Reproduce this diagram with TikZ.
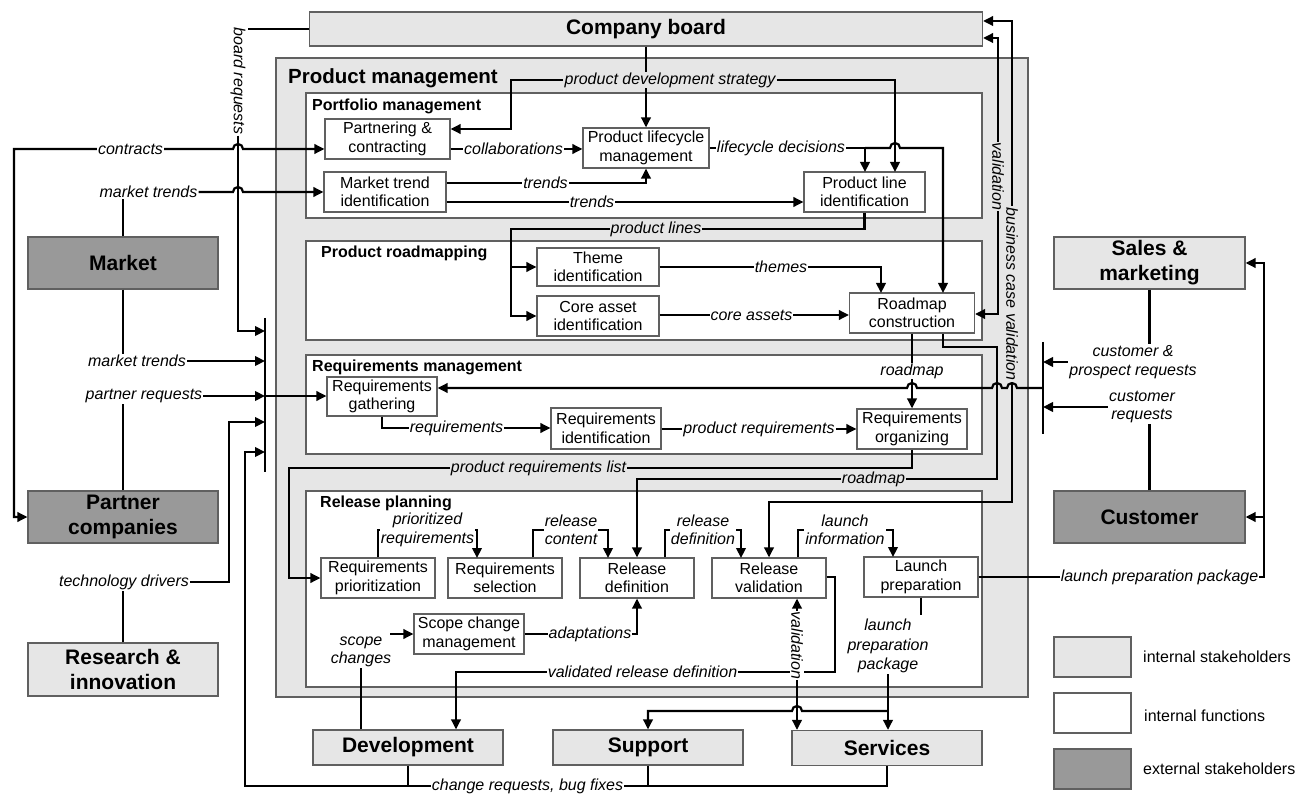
\documentclass[tikz,border=0pt]{standalone}
\usepackage{fontspec}
\setmainfont{Liberation Sans}
\usetikzlibrary{arrows.meta}
\definecolor{lightg}{HTML}{E6E6E6}
\definecolor{darkg}{HTML}{999999}
\definecolor{bordc}{HTML}{606060}
\pgfdeclarelayer{fg}
\pgfsetlayers{main,fg}
\begin{document}
\begin{tikzpicture}[x=1pt,y=-1pt,
 >={Triangle[length=10pt,width=9.5pt]},
 ln/.style={line width=2.2pt},
 area/.style={draw=bordc,line width=1.2pt,inner sep=0pt,fill=white},
 fn/.style={draw=bordc,line width=1.2pt,fill=white,inner sep=0pt,align=center,font=\fontsize{16}{18.5}\selectfont,minimum width=114,minimum height=40},
 sh/.style={draw=bordc,line width=1.2pt,inner sep=0pt,align=center,font=\bfseries\fontsize{21}{25}\selectfont,minimum width=190,minimum height=52},
 ttl/.style={anchor=west,inner sep=0pt,font=\bfseries\fontsize{16}{19}\selectfont},
 lbl/.style={inner sep=1pt,align=center,fill=white,font=\itshape\fontsize{16}{18.5}\selectfont},
 lblg/.style={lbl,fill=lightg},
 lgt/.style={anchor=west,inner sep=0pt,font=\fontsize{16}{19}\selectfont}]
\useasboundingbox[fill=white] (0,0) rectangle (1304,794);
% ---------- areas
\node[area,fill=lightg,minimum width=752,minimum height=639] (pm) at (652,377.5) {};
\node[ttl,font=\bfseries\fontsize{20.5}{24}\selectfont] (pmt) at (288,78) {Product management};
\node[area,minimum width=676,minimum height=125] (pfm) at (644,155.5) {};
\node[ttl] (pfmt) at (312,106) {Portfolio management};
\node[area,minimum width=676,minimum height=99] (prm) at (644,290.5) {};
\node[ttl] (prmt) at (321,253) {Product roadmapping};
\node[area,minimum width=676,minimum height=99] (rqm) at (644,404.5) {};
\node[ttl] (rqmt) at (312,367) {Requirements management};
\node[area,minimum width=676,minimum height=196] (rlp) at (644,589) {};
\node[ttl] (rlpt) at (320,503) {Release planning};
% ---------- stakeholders
\node[sh,fill=lightg,minimum width=673,minimum height=34] (cb) at (646,29) {Company board};
\node[sh,fill=darkg] (mk) at (123,263) {Market};
\node[sh,fill=darkg] (pco) at (123,517) {Partner\\companies};
\node[sh,fill=lightg,minimum height=53] (rin) at (123,669.5) {Research \&\\innovation};
\node[sh,fill=lightg,minimum width=191] (sm) at (1149.5,263) {Sales \&\\marketing};
\node[sh,fill=darkg,minimum width=191] (cu) at (1149.5,517) {Customer};
\node[sh,fill=lightg,minimum height=35] (dev) at (408,747.5) {Development};
\node[sh,fill=lightg,minimum height=35] (sup) at (648,747.5) {Support};
\node[sh,fill=lightg,minimum height=35] (srv) at (887,748) {Services};
% ---------- functions
\node[fn,minimum width=125] (pc) at (387.5,139) {Partnering \&\\contracting};
\node[fn,minimum width=122] (mti) at (385,192) {Market trend\\identification};
\node[fn,minimum width=126] (plm) at (646,148) {Product lifecycle\\management};
\node[fn,minimum width=121] (pli) at (864.5,192) {Product line\\identification};
\node[fn,minimum width=122,minimum height=38] (ti) at (598,267) {Theme\\identification};
\node[fn,minimum width=122] (cai) at (598,316) {Core asset\\identification};
\node[fn,minimum width=125] (rc) at (912,313) {Roadmap\\construction};
\node[fn,minimum width=110,minimum height=39] (rg) at (382,396.5) {Requirements\\gathering};
\node[fn,minimum width=110,minimum height=41] (ri) at (606,428.5) {Requirements\\identification};
\node[fn,minimum width=110] (ro) at (912,429) {Requirements\\organizing};
\node[fn] (rpz) at (378,578) {Requirements\\prioritization};
\node[fn] (rs) at (505,578) {Requirements\\selection};
\node[fn] (rd) at (637,578) {Release\\definition};
\node[fn] (rv) at (769,578) {Release\\validation};
\node[fn] (lp) at (921,577) {Launch\\preparation};
\node[fn,minimum width=110] (scm) at (469,634) {Scope change\\management};
% ---------- legend
\node[sh,fill=lightg,minimum width=77,minimum height=40] (lg1) at (1092.5,657) {};
\node[sh,fill=white,minimum width=77,minimum height=40] (lg2) at (1092.5,713) {};
\node[sh,fill=darkg,minimum width=77,minimum height=40] (lg3) at (1092.5,769) {};
\node[lgt] (lg1t) at (1143,657) {internal stakeholders};
\node[lgt] (lg2t) at (1144,716) {internal functions};
\node[lgt] (lg3t) at (1143,769) {external stakeholders};
% ---------- labels
\begin{pgfonlayer}{fg}
\node[lbl,rotate=-90] (brq) at (238,81) {board requests};
\node[lbl] (con) at (130.5,149) {contracts};
\node[lbl] (mt1) at (148.5,192) {market trends};
\node[lbl] (mt2) at (137,361) {market trends};
\node[lbl] (prq) at (144,396) {partner requests};
\node[lbl] (td) at (124,582) {technology drivers};
\node[lbl] (crb) at (527.5,786) {change requests, bug fixes};
\node[lblg] (pds) at (670,80) {product development strategy};
\node[lbl] (col) at (513.5,149) {collaborations};
\node[lbl] (lcd) at (781,148) {lifecycle decisions};
\node[lbl] (tr1) at (545.5,183) {trends};
\node[lbl] (tr2) at (592,202) {trends};
\node[lblg] (pl) at (656,229) {product lines};
\node[lbl] (th) at (781,267) {themes};
\node[lbl] (ca) at (751.5,315) {core assets};
\node[lblg,rotate=-90] (val1) at (998,176.5) {validation};
\node[lblg,rotate=-90] (bcv) at (1012,294) {business case validation};
\node[lbl] (rm1) at (912,371) {roadmap};
\node[lblg] (rm2) at (873.5,479) {roadmap};
\node[lbl] (cpr) at (1133,362) {customer \&\\prospect requests};
\node[lbl] (cr2) at (1142,407) {customer\\requests};
\node[lbl] (rq) at (456.5,428) {requirements};
\node[lbl] (prr) at (759,429) {product requirements};
\node[lblg] (prl) at (538.5,468) {product requirements list};
\node[lbl] (ppr) at (427.5,530) {prioritized\\requirements};
\node[lbl] (rcn) at (571,530) {release\\content};
\node[lbl] (rdl) at (703,530) {release\\definition};
\node[lbl] (li) at (845,530) {launch\\information};
\node[lbl] (ad) at (590,634) {adaptations};
\node[lbl] (sc) at (361,652) {scope\\changes};
\node[lbl] (vrd) at (642.5,672) {validated release definition};
\node[lbl,rotate=-90] (val2) at (797,645.5) {validation};
\node[lbl,font=\itshape\fontsize{16}{19.5}\selectfont] (lpp) at (888,646) {launch\\preparation\\package};
\node[lbl] (lpr) at (1159.5,577) {launch preparation package};
\end{pgfonlayer}
% ---------- connectors
\coordinate (scs) at (390,634);
\draw[ln] (cb.west) -- (248,29);
\draw[ln,->] (brq.east) -- (238,331) -- (265,331);
\draw[ln] (265,318) -- (265,472);
\draw[ln] (1043,342) -- (1043,434);
\draw[ln,<->] (pco.west) -- (14,517) -- (14,149) -- (233,149) arc[start angle=180,end angle=0,radius=5pt] -- (pc.west |- 0,149);
\draw[ln] (mk.north) -- (mk.north |- mt1.south);
\draw[ln,->] (mt1.east) -- (233,192) arc[start angle=180,end angle=0,radius=5pt] -- (mti.west);
\draw[ln] (mk.south) -- (mk.south |- mt2.north);
\draw[ln,->] (mt2.east) -- (265,361);
\draw[ln] (pco.north) -- (pco.north |- prq.south);
\draw[ln,->] (prq.east) -- (265,396);
\draw[ln,->] (265,396) -- (rg.west |- 0,396);
\draw[ln] (rin.north) -- (rin.north |- td.south);
\draw[ln,->] (td.east) -- (229,582) -- (229,422) -- (265,422);
\draw[ln,->] (srv.south) -- (srv.south |- 0,786) -- (245,786) -- (245,452) -- (265,452);
\draw[ln] (dev.south) -- (dev.south |- 0,786);
\draw[ln] (sup.south) -- (sup.south |- 0,786);
% portfolio
\draw[ln,->] (cb.south) -- (plm.north);
\draw[ln,->] (pds.west) -- (511,80) -- (511,129) -- (pc.east |- 0,129);
\draw[ln,->] (pds.east) -- (895,80) -- (895,172);
\draw[ln,->] (pc.east |- 0,149) -- (plm.west |- 0,149);
\draw[ln,->] (plm.east |- 0,148) -- (865,148) -- (865,172);
\draw[ln,->] (865,148) -- (890,148) arc[start angle=180,end angle=0,radius=5pt] -- (943,148) -- (943,293);
\draw[ln,->] (mti.east |- 0,183) -- (646,183) -- (plm.south);
\draw[ln,->] (mti.east |- 0,202) -- (pli.west |- 0,202);
% roadmapping
\draw[ln,->] (pli.south) -- (pli.south |- 0,229) -- (511,229) -- (511,316) -- (cai.west);
\draw[ln,->] (511,267) -- (ti.west);
\draw[ln,->] (ti.east) -- (881,267) -- (881,293);
\draw[ln,->] (cai.east |- 0,315) -- (rc.west |- 0,315);
\draw[ln,<->] (cb.east |- 0,38) -- (998,38) -- (998,314) -- (rc.east |- 0,314);
\draw[ln,<->] (cb.east |- 0,21) -- (1012,21) -- (1012,502) -- (769,502) -- (rv.north);
\draw[ln,->] (rc.south) -- (ro.north);
\draw[ln,->] (rc.south -| 943,0) -- (943,347) -- (997,347) -- (997,479) -- (637,479) -- (rd.north);
% requirements
\draw[ln,->] (1043,388) -- (1017,388) arc[start angle=0,end angle=180,radius=5pt] -- (1002,388) arc[start angle=0,end angle=180,radius=5pt] -- (917,388) arc[start angle=0,end angle=180,radius=5pt] -- (rg.east |- 0,388);
\draw[ln] (sm.south) -- (sm.south |- cpr.north);
\draw[ln,->] (cpr.west) -- (1043,362);
\draw[ln,->] (cr2.west) -- (1043,407);
\draw[ln] (cu.north) -- (cu.north |- cr2.south);
\draw[ln,->] (rg.south) -- (382,428) -- (ri.west |- 0,428);
\draw[ln,->] (ri.east |- 0,429) -- (ro.west |- 0,429);
\draw[ln,->] (ro.south) -- (912,468) -- (289,468) -- (289,578) -- (rpz.west);
% release planning
\draw[ln,->] (rpz.north) -- (378,530) -- (477,530) -- (477,558);
\draw[ln,->] (rs.north -| 533,0) -- (533,530) -- (608,530) -- (608,558);
\draw[ln,->] (rd.north -| 665,0) -- (665,530) -- (741,530) -- (741,558);
\draw[ln,->] (rv.north -| 798,0) -- (798,530) -- (893,530) -- (893,557);
\draw[ln,->] (scm.east) -- (637,634) -- (rd.south);
\draw[ln] (dev.north -| sc.south) -- (sc.south);
\draw[ln,->] (scs) -- (scm.west);
\draw[ln,->] (rv.east |- 0,577) -- (835,577) -- (835,672) -- (456,672) -- (dev.north -| 456,0);
\draw[ln,<->] (rv.south -| 797,0) -- (srv.north -| 797,0);
\draw[ln] (lp.south) -- (921,615);
\draw[ln,->] (lpp.south) -- (srv.north -| lpp.south);
\draw[ln,->] (888,711) -- (802,711) arc[start angle=0,end angle=180,radius=5pt] -- (648,711) -- (sup.north);
\draw[ln,->] (lp.east) -- (1264,577) -- (1264,263) -- (sm.east |- 0,263);
\draw[ln,->] (1264,517) -- (cu.east);
\end{tikzpicture}
\end{document}
